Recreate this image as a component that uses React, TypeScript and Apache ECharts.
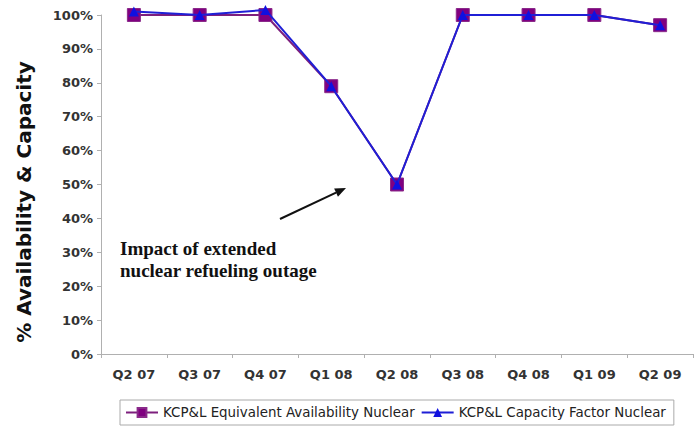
import React, { useEffect, useRef } from "react";
import * as echarts from "echarts";

const categories = ["Q2 07", "Q3 07", "Q4 07", "Q1 08", "Q2 08", "Q3 08", "Q4 08", "Q1 09", "Q2 09"];
const equivalentAvailability = [100, 100, 100, 79, 50, 100, 100, 100, 97];
const capacityFactor = [101, 100, 101.5, 79, 50, 100, 100, 100, 97];
const seriesNames = ["KCP&L Equivalent Availability Nuclear", "KCP&L Capacity Factor Nuclear"];
const yTicks = [0, 10, 20, 30, 40, 50, 60, 70, 80, 90, 100];
const yAxisTitle = "% Availability & Capacity";

export default function App() {
  const ref = useRef<HTMLDivElement>(null);
  useEffect(() => {
    if (!ref.current) return;
    const chart = echarts.init(ref.current, undefined, { renderer: "svg" });
    const dir = [0.905, -0.424];
    const perp = [0.424, 0.905];
    const tip = [346, 188];
    const base = [tip[0] - 11 * dir[0], tip[1] - 11 * dir[1]];
    chart.setOption({
      animation: false,
      backgroundColor: "#ffffff",
      grid: { left: 101, right: 6, top: 15, bottom: 74, containLabel: false },
      xAxis: {
        type: "category",
        data: categories,
        boundaryGap: true,
        axisLine: { lineStyle: { color: "#b0b0b0", width: 1 } },
        axisTick: { show: true, alignWithLabel: false, length: 4, lineStyle: { color: "#b0b0b0" } },
        axisLabel: { color: "#333", fontWeight: "bold", fontSize: 13, fontFamily: "DejaVu Sans", margin: 14 },
        splitLine: { show: false },
      },
      yAxis: {
        type: "value",
        min: 0,
        max: 100,
        interval: 10,
        axisLine: { show: true, lineStyle: { color: "#b0b0b0", width: 1 } },
        axisTick: { show: true, length: 4, lineStyle: { color: "#b0b0b0" } },
        axisLabel: {
          color: "#333",
          fontWeight: "bold",
          fontSize: 13,
          fontFamily: "DejaVu Sans",
          margin: 8,
          formatter: (v: number) => (yTicks.includes(v) ? v + "%" : ""),
        },
        splitLine: { show: false },
      },
      legend: {
        left: 120,
        top: 400,
        padding: [6, 8, 6, 5],
        borderColor: "#aaaaaa",
        borderWidth: 1,
        itemWidth: 32,
        itemHeight: 11,
        itemGap: 6,
        textStyle: { color: "#222", fontSize: 13.4, fontFamily: "DejaVu Sans" },
        data: seriesNames,
      },
      series: [
        {
          name: seriesNames[0],
          type: "line",
          data: equivalentAvailability,
          symbol: "rect",
          symbolSize: 13,
          clip: false,
          lineStyle: { color: "#7d1f7d", width: 2 },
          itemStyle: { color: "#800080", borderColor: "#8a2a8a", borderWidth: 1 },
          z: 2,
        },
        {
          name: seriesNames[1],
          type: "line",
          data: capacityFactor,
          symbol: "triangle",
          symbolSize: 10,
          clip: false,
          lineStyle: { color: "#1f1fd6", width: 2 },
          itemStyle: { color: "#1010e0" },
          z: 3,
        },
      ],
      graphic: [
        {
          type: "text",
          x: 24,
          y: 202,
          rotation: Math.PI / 2,
          style: {
            text: yAxisTitle,
            font: "bold 20px 'DejaVu Sans'",
            fill: "#111",
            align: "center",
            verticalAlign: "middle",
          },
        },
        {
          type: "text",
          left: 120,
          top: 237,
          style: {
            text: "Impact of extended\nnuclear refueling outage",
            font: "bold 19px 'Liberation Serif'",
            fill: "#111",
            lineHeight: 22,
          },
        },
        {
          type: "line",
          shape: { x1: 280, y1: 219, x2: base[0], y2: base[1] },
          style: { stroke: "#111", lineWidth: 2 },
        },
        {
          type: "polygon",
          shape: {
            points: [
              tip,
              [base[0] + 4.5 * perp[0], base[1] + 4.5 * perp[1]],
              [base[0] - 4.5 * perp[0], base[1] - 4.5 * perp[1]],
            ],
          },
          style: { fill: "#111" },
        },
      ],
    });
    return () => chart.dispose();
  }, []);
  return <div ref={ref} style={{ position: "absolute", left: 0, top: 0, width: 699, height: 428 }} />;
}
